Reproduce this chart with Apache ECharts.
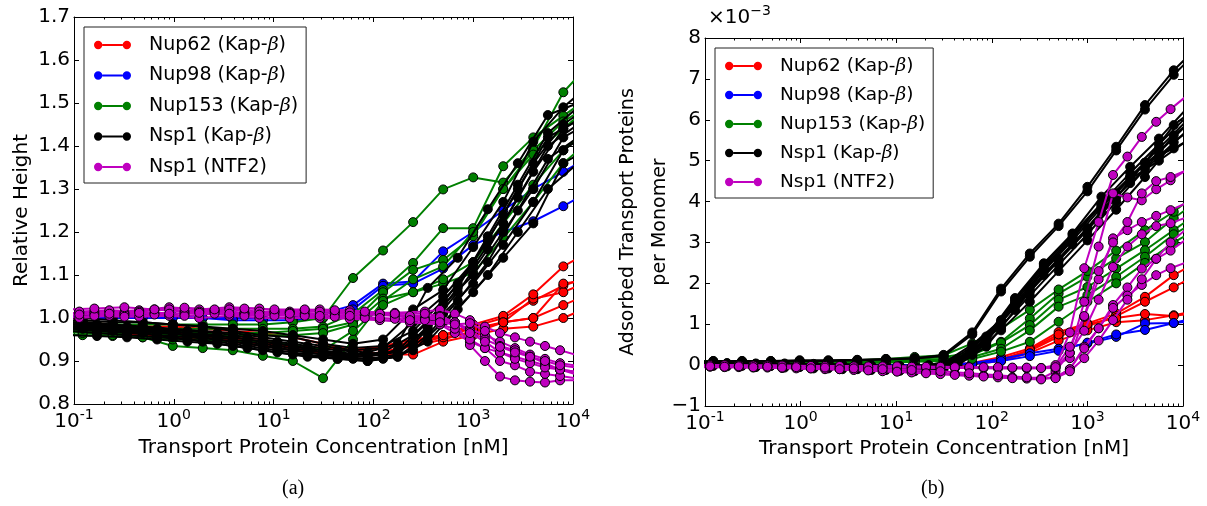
<!DOCTYPE html>
<html>
<head>
<meta charset="utf-8">
<script src="https://cdn.jsdelivr.net/npm/echarts@6/dist/echarts.min.js"></script>
</head>
<body style="margin:0;background:#fff">
<div id="container" style="width:1207px;height:506px;"></div>
<script>
// concentration grids [nM]
var xKap = [0.061, 0.122, 0.244, 0.488, 0.977, 1.95, 3.91, 7.81, 15.6, 31.3, 62.5, 125, 250, 500, 1000, 2000, 4000, 8000, 16000];
var xKap2 = [0.086, 0.17, 0.34, 0.68, 1.37, 2.73, 5.47, 10.9, 21.9, 43.8, 87.5, 175, 350, 700, 1400, 2800, 5600, 11200];
var xNtf = [0.08, 0.16, 0.32, 0.64, 1.28, 2.56, 5.1, 10.2, 20.5, 41, 82, 164, 328, 464, 655, 927, 1311, 1854, 2621, 3707, 5243, 7415, 10486];
var xNtf2 = [0.113, 0.226, 0.45, 0.9, 1.8, 3.6, 7.2, 14.5, 29, 58, 116, 232, 464, 655, 927, 1311, 1854, 2621, 3707, 5243, 7415, 10486];

// (a) relative height
var hNup62 = [
  [0.99, 0.99, 0.985, 0.98, 0.98, 0.975, 0.97, 0.965, 0.955, 0.94, 0.925, 0.93, 0.945, 0.96, 0.98, 1.0, 1.04, 1.075, 1.1],
  [0.985, 0.985, 0.98, 0.975, 0.97, 0.965, 0.96, 0.95, 0.935, 0.92, 0.915, 0.92, 0.935, 0.95, 0.97, 0.99, 1.045, 1.06, 1.09],
  [0.98, 0.98, 0.975, 0.97, 0.965, 0.96, 0.955, 0.945, 0.93, 0.93, 0.925, 0.935, 0.95, 0.96, 0.985, 1.005, 1.055, 1.12, 1.16],
  [0.975, 0.975, 0.97, 0.965, 0.96, 0.955, 0.95, 0.94, 0.93, 0.915, 0.91, 0.915, 0.915, 0.945, 0.96, 0.975, 0.98, 1.0, 1.03],
  [0.97, 0.97, 0.965, 0.96, 0.955, 0.95, 0.945, 0.935, 0.925, 0.92, 0.915, 0.92, 0.94, 0.955, 0.965, 0.99, 1.0, 1.03, 1.06],
  [0.99, 0.985, 0.98, 0.975, 0.97, 0.96, 0.95, 0.94, 0.935, 0.93, 0.925, 0.93, 0.94, 0.96, 0.975, 0.99, 1.0, 1.08, 1.09]
];
var hNup98 = [
  [1.005, 1.005, 1.005, 1.005, 1.005, 1.0, 1.0, 1.0, 1.0, 1.01, 1.03, 1.08, 1.085, 1.155, 1.2, 1.25, 1.3, 1.34, 1.38],
  [1.0, 1.0, 1.0, 1.0, 1.0, 1.0, 0.995, 0.995, 0.995, 1.0, 1.02, 1.075, 1.08, 1.115, 1.17, 1.2, 1.225, 1.26, 1.3]
];
var hNup153 = [
  [0.99, 0.99, 0.985, 0.985, 0.985, 0.985, 0.985, 0.985, 0.99, 1.0, 1.093, 1.157, 1.223, 1.299, 1.327, 1.315, 1.395, 1.525, 1.6],
  [0.98, 0.98, 0.98, 0.975, 0.975, 0.975, 0.975, 0.975, 0.975, 0.98, 1.01, 1.065, 1.128, 1.209, 1.209, 1.353, 1.42, 1.47, 1.52],
  [0.975, 0.975, 0.97, 0.97, 0.97, 0.965, 0.965, 0.965, 0.97, 0.975, 0.99, 1.06, 1.112, 1.135, 1.19, 1.3, 1.39, 1.457, 1.5],
  [0.97, 0.97, 0.965, 0.965, 0.96, 0.96, 0.96, 0.96, 0.96, 0.965, 0.985, 1.045, 1.06, 1.08, 1.105, 1.186, 1.27, 1.36, 1.42],
  [0.965, 0.96, 0.958, 0.955, 0.935, 0.93, 0.925, 0.912, 0.9, 0.86, 0.95, 1.04, 1.09, 1.12, 1.2, 1.3, 1.38, 1.44, 1.5],
  [0.97, 0.965, 0.96, 0.955, 0.95, 0.95, 0.945, 0.945, 0.94, 0.925, 0.97, 1.03, 1.06, 1.09, 1.13, 1.22, 1.31, 1.39, 1.45]
];
var hNsp1Kap = [
  [1.0, 1.0, 0.995, 0.99, 0.985, 0.98, 0.975, 0.97, 0.96, 0.95, 0.94, 0.95, 1.02, 1.065, 1.165, 1.27, 1.41, 1.49, 1.55],
  [0.99, 0.99, 0.985, 0.98, 0.975, 0.97, 0.965, 0.955, 0.945, 0.935, 0.925, 0.93, 0.99, 1.05, 1.13, 1.24, 1.36, 1.45, 1.5],
  [0.985, 0.985, 0.98, 0.975, 0.97, 0.96, 0.955, 0.945, 0.935, 0.92, 0.915, 0.92, 0.96, 1.03, 1.1, 1.2, 1.3, 1.42, 1.46],
  [0.98, 0.98, 0.975, 0.97, 0.965, 0.955, 0.945, 0.935, 0.925, 0.915, 0.91, 0.915, 0.94, 1.01, 1.08, 1.17, 1.27, 1.39, 1.44],
  [0.975, 0.975, 0.97, 0.965, 0.955, 0.945, 0.935, 0.925, 0.915, 0.91, 0.905, 0.905, 0.925, 0.99, 1.06, 1.14, 1.22, 1.36, 1.4],
  [0.995, 0.995, 0.99, 0.99, 0.985, 0.98, 0.97, 0.96, 0.955, 0.94, 0.93, 0.935, 0.97, 1.04, 1.12, 1.22, 1.34, 1.44, 1.48]
];
var hNsp1Kap2 = [
  [0.99, 0.985, 0.98, 0.975, 0.97, 0.965, 0.955, 0.945, 0.935, 0.925, 0.92, 0.94, 1.07, 1.14, 1.253, 1.36, 1.472, 1.5],
  [0.98, 0.975, 0.97, 0.965, 0.96, 0.955, 0.945, 0.935, 0.925, 0.915, 0.91, 0.925, 0.99, 1.08, 1.18, 1.3, 1.42, 1.46],
  [0.97, 0.965, 0.96, 0.955, 0.95, 0.945, 0.935, 0.925, 0.915, 0.905, 0.9, 0.91, 0.96, 1.04, 1.13, 1.25, 1.37, 1.42],
  [0.985, 0.98, 0.975, 0.97, 0.965, 0.96, 0.95, 0.94, 0.93, 0.92, 0.915, 0.92, 0.975, 1.06, 1.16, 1.28, 1.4, 1.45],
  [0.96, 0.958, 0.955, 0.95, 0.945, 0.94, 0.93, 0.92, 0.91, 0.905, 0.9, 0.91, 0.945, 1.02, 1.1, 1.2, 1.3, 1.36],
  [0.975, 0.97, 0.965, 0.96, 0.955, 0.95, 0.94, 0.93, 0.92, 0.91, 0.905, 0.915, 0.98, 1.07, 1.19, 1.31, 1.43, 1.49]
];
var hNsp1Ntf = [
  [1.01, 1.015, 1.012, 1.02, 1.015, 1.018, 1.012, 1.015, 1.018, 1.015, 1.013, 1.012, 1.015, 1.019, 1.01, 0.995, 0.98, 0.965, 0.955, 0.945, 0.935, 0.925, 0.915],
  [1.005, 1.01, 1.008, 1.012, 1.01, 1.015, 1.01, 1.012, 1.01, 1.01, 1.008, 1.005, 1.0, 0.995, 0.988, 0.975, 0.96, 0.945, 0.93, 0.915, 0.905, 0.895, 0.89],
  [1.0, 1.005, 1.003, 1.008, 1.005, 1.01, 1.005, 1.005, 1.005, 1.003, 1.0, 0.998, 0.995, 0.985, 0.965, 0.945, 0.93, 0.92, 0.91, 0.9, 0.89, 0.88, 0.875],
  [1.02, 1.022, 1.025, 1.02, 1.024, 1.02, 1.022, 1.02, 1.02, 1.018, 1.015, 1.01, 1.01, 1.005, 0.99, 0.97, 0.95, 0.935, 0.925, 0.91, 0.895, 0.88, 0.87]
];
var hNsp1Ntf2 = [
  [1.012, 1.015, 1.018, 1.025, 1.02, 1.025, 1.022, 1.015, 1.02, 1.018, 1.01, 1.0, 1.0, 0.99, 0.937, 0.9, 0.864, 0.855, 0.852, 0.85, 0.855, 0.855],
  [1.0, 1.005, 1.003, 1.005, 1.0, 1.005, 1.0, 1.0, 1.0, 0.998, 0.995, 0.99, 0.985, 0.975, 0.95, 0.93, 0.9, 0.89, 0.875, 0.87, 0.865, 0.86],
  [1.015, 1.018, 1.015, 1.02, 1.015, 1.02, 1.015, 1.012, 1.015, 1.013, 1.01, 1.005, 1.003, 0.99, 0.965, 0.945, 0.92, 0.905, 0.895, 0.885, 0.88, 0.875],
  [1.008, 1.01, 1.012, 1.01, 1.012, 1.01, 1.008, 1.01, 1.005, 1.005, 1.0, 0.995, 0.99, 0.985, 0.988, 0.97, 0.933, 0.92, 0.91, 0.9, 0.89, 0.885]
];

// (b) adsorbed proteins per monomer, in units of 1e-3
var aNup62 = [
  [0, 0, 0, 0, 0, 0, 0, 0, 0, 0, 0.05, 0.2, 0.41, 0.81, 1.02, 1.26, 1.67, 2.2, 2.6],
  [-0.02, -0.02, -0.02, -0.02, -0.02, -0.02, -0.02, -0.02, -0.02, -0.02, 0.02, 0.15, 0.35, 0.7, 0.95, 1.2, 1.55, 1.9, 2.3],
  [0, 0, 0, 0, 0, 0, 0, 0, 0, 0, 0.02, 0.1, 0.3, 0.6, 0.85, 1.05, 1.1, 1.22, 1.35],
  [0, 0, 0, 0, 0, 0, 0, 0, 0, 0, 0.03, 0.12, 0.38, 0.75, 1.0, 1.15, 1.25, 1.2, 1.3]
];
var aNup98 = [
  [0, 0, 0, 0, 0, 0, 0, 0, 0, 0, 0.05, 0.15, 0.29, 0.4, 0.53, 0.69, 1.02, 1.03, 1.1],
  [0, 0, 0, 0, 0, 0, 0, 0, 0, 0, 0.03, 0.1, 0.22, 0.35, 0.55, 0.75, 0.86, 1.03, 1.2]
];
var aNup153 = [
  [0.1, 0.1, 0.1, 0.1, 0.1, 0.1, 0.1, 0.12, 0.15, 0.2, 0.3, 0.57, 1.14, 1.75, 2.16, 2.61, 3.01, 3.59, 4.1],
  [0.05, 0.05, 0.05, 0.06, 0.06, 0.07, 0.08, 0.1, 0.12, 0.15, 0.25, 0.55, 0.98, 1.6, 1.91, 2.36, 2.81, 3.3, 3.8],
  [0.05, 0.05, 0.05, 0.05, 0.05, 0.06, 0.07, 0.08, 0.1, 0.12, 0.2, 0.4, 0.85, 1.43, 1.71, 2.16, 2.65, 3.2, 3.6],
  [0.02, 0.02, 0.03, 0.03, 0.03, 0.04, 0.05, 0.06, 0.08, 0.1, 0.15, 0.33, 0.57, 1.06, 1.55, 2.0, 2.5, 3.0, 3.4],
  [0.08, 0.08, 0.08, 0.08, 0.09, 0.1, 0.12, 0.15, 0.2, 0.24, 0.53, 0.9, 1.35, 1.85, 2.3, 2.8, 3.3, 3.75, 4.3]
];
var aNsp1Kap = [
  [0.08, 0.1, 0.1, 0.1, 0.12, 0.12, 0.13, 0.15, 0.17, 0.25, 0.8, 1.87, 2.73, 3.46, 4.36, 5.34, 6.36, 7.21, 7.9],
  [0.06, 0.08, 0.08, 0.09, 0.1, 0.1, 0.12, 0.14, 0.16, 0.22, 0.75, 1.8, 2.65, 3.4, 4.25, 5.25, 6.25, 7.1, 7.8],
  [0, 0.02, 0.03, 0.02, 0, -0.02, -0.05, -0.08, -0.1, -0.05, 0.35, 0.95, 1.7, 2.45, 3.2, 4.0, 4.8, 5.62, 6.2],
  [0.02, 0.03, 0.03, 0.03, 0.02, 0, -0.03, -0.05, -0.06, 0, 0.45, 1.05, 1.8, 2.55, 3.3, 4.1, 4.95, 5.87, 6.4],
  [-0.02, 0, 0, -0.02, -0.05, -0.08, -0.1, -0.12, -0.15, -0.1, 0.25, 0.85, 1.55, 2.3, 3.05, 3.8, 4.6, 5.45, 6.0],
  [0.05, 0.06, 0.05, 0.04, 0.03, 0.02, 0, -0.02, -0.03, 0.05, 0.5, 1.1, 1.85, 2.6, 3.35, 4.2, 4.95, 5.3, 5.7]
];
var aNsp1Kap2 = [
  [0.05, 0.05, 0.04, 0.04, 0.03, 0.02, 0, -0.02, 0, 0.15, 0.7, 1.64, 2.49, 3.22, 4.12, 4.85, 5.54, 6.3],
  [0, 0, -0.02, -0.03, -0.05, -0.07, -0.1, -0.12, -0.1, 0.05, 0.55, 1.5, 2.35, 3.1, 3.95, 4.7, 5.4, 6.1],
  [0.02, 0.02, 0.01, 0, -0.02, -0.04, -0.06, -0.08, -0.06, 0.08, 0.6, 1.55, 2.4, 3.15, 3.9, 4.6, 5.2, 5.9],
  [-0.03, -0.03, -0.05, -0.06, -0.08, -0.1, -0.12, -0.14, -0.12, 0, 0.45, 1.35, 2.2, 2.95, 3.75, 4.45, 5.1, 5.75],
  [0.04, 0.04, 0.03, 0.02, 0.01, 0, -0.02, -0.04, -0.02, 0.12, 0.65, 1.6, 2.45, 3.2, 3.95, 4.55, 5.0, 5.5],
  [0, -0.01, -0.02, -0.03, -0.04, -0.05, -0.07, -0.09, -0.08, 0.1, 0.6, 1.45, 2.3, 3.05, 3.85, 4.6, 5.3, 6.0]
];
var aNsp1Ntf = [
  [-0.02, -0.02, -0.03, -0.03, -0.04, -0.05, -0.05, -0.06, -0.06, -0.07, -0.07, -0.07, -0.07, -0.05, 0.8, 2.37, 3.5, 4.65, 5.1, 5.58, 5.95, 6.26, 6.55],
  [-0.05, -0.05, -0.06, -0.07, -0.08, -0.1, -0.12, -0.15, -0.18, -0.22, -0.26, -0.3, -0.33, -0.15, 0.3, 1.55, 2.9, 4.2, 4.1, 4.03, 4.3, 4.52, 4.75],
  [0, 0, -0.01, -0.01, -0.02, -0.02, -0.03, -0.03, -0.04, -0.05, -0.05, -0.06, -0.07, 0, 0.17, 1.18, 2.1, 3.1, 3.3, 3.5, 3.65, 3.79, 3.95],
  [-0.03, -0.04, -0.05, -0.06, -0.08, -0.1, -0.13, -0.16, -0.2, -0.24, -0.28, -0.32, -0.35, -0.3, -0.1, 0.45, 0.9, 1.47, 1.9, 2.36, 2.6, 2.8, 3.05]
];
var aNsp1Ntf2 = [
  [-0.02, -0.03, -0.03, -0.04, -0.05, -0.05, -0.06, -0.06, -0.07, -0.07, -0.08, -0.08, -0.07, 0.3, 0.84, 1.6, 2.4, 2.9, 3.2, 3.4, 3.47, 3.6],
  [-0.04, -0.05, -0.06, -0.08, -0.1, -0.12, -0.15, -0.18, -0.22, -0.26, -0.3, -0.33, -0.3, -0.1, 0.41, 0.9, 1.4, 1.7, 1.96, 2.2, 2.37, 2.5],
  [0, -0.01, -0.01, -0.02, -0.02, -0.03, -0.03, -0.04, -0.04, -0.05, -0.05, -0.06, -0.05, 0.45, 1.2, 2.3, 3.0, 3.5, 4.2, 4.5, 4.6, 4.75],
  [-0.03, -0.03, -0.04, -0.05, -0.06, -0.08, -0.1, -0.12, -0.15, -0.2, -0.25, -0.3, -0.32, -0.15, 0.17, 0.6, 1.1, 1.6, 2.1, 2.6, 3.0, 3.3]
];

var names = ['Nup62 (Kap-β)', 'Nup98 (Kap-β)', 'Nup153 (Kap-β)', 'Nsp1 (Kap-β)', 'Nsp1 (NTF2)'];
var colors = ['#ff0000', '#0000ff', '#008000', '#000000', '#bf00bf'];

var font = 'DejaVu Sans';
var minorTicks = [];
for (var d = -1; d < 4; d++) {
  for (var m = 2; m < 10; m++) minorTicks.push(d + Math.log10(m));
}

var chart = echarts.init(document.getElementById('container'));

function addLines(list, group, panel, xs, lines) {
  lines.forEach(function (ys) {
    list.push({
      type: 'line',
      name: names[group],
      xAxisIndex: panel * 4,
      yAxisIndex: panel * 2,
      data: ys.map(function (y, i) { return [xs[i], y]; }),
      symbol: 'circle',
      symbolSize: 9,
      lineStyle: { color: colors[group], width: 2 },
      itemStyle: { color: colors[group], borderColor: '#000', borderWidth: 1 },
      emphasis: { disabled: true },
      z: 2 + group
    });
  });
}

var series = [];
addLines(series, 0, 0, xKap, hNup62);
addLines(series, 1, 0, xKap, hNup98);
addLines(series, 2, 0, xKap, hNup153);
addLines(series, 3, 0, xKap, hNsp1Kap);
addLines(series, 3, 0, xKap2, hNsp1Kap2);
addLines(series, 4, 0, xNtf, hNsp1Ntf);
addLines(series, 4, 0, xNtf2, hNsp1Ntf2);
addLines(series, 0, 1, xKap, aNup62);
addLines(series, 1, 1, xKap, aNup98);
addLines(series, 2, 1, xKap, aNup153);
addLines(series, 3, 1, xKap, aNsp1Kap);
addLines(series, 3, 1, xKap2, aNsp1Kap2);
addLines(series, 4, 1, xNtf, aNsp1Ntf);
addLines(series, 4, 1, xNtf2, aNsp1Ntf2);

var expRich = {
  b: { fontSize: 20, fontFamily: font, color: '#000', verticalAlign: 'bottom' },
  s: { fontSize: 14, fontFamily: font, color: '#000', verticalAlign: 'bottom', padding: [0, 0, 10, 0] }
};

function xAxes(grid, nameGap) {
  return [
    {
      type: 'log', gridIndex: grid, position: 'bottom', min: 0.1, max: 10000, logBase: 10,
      name: 'Transport Protein Concentration [nM]', nameLocation: 'middle', nameGap: nameGap,
      nameTextStyle: { fontSize: 20, fontFamily: font, color: '#000' },
      axisLine: { onZero: false, lineStyle: { color: '#000', width: 1 } },
      axisTick: { inside: true, length: 5, lineStyle: { color: '#000' } },
      axisLabel: {
        margin: 4, rich: expRich,
        formatter: function (v) { return '{b|10}{s|' + Math.round(Math.log10(v)) + '}'; }
      },
      splitLine: { show: false }
    },
    {
      type: 'log', gridIndex: grid, position: 'top', min: 0.1, max: 10000, logBase: 10,
      axisLine: { onZero: false, lineStyle: { color: '#000', width: 1 } },
      axisTick: { inside: true, length: 5, lineStyle: { color: '#000' } },
      axisLabel: { show: false }, splitLine: { show: false }
    },
    {
      type: 'value', gridIndex: grid, position: 'bottom', min: -1, max: 4,
      axisLine: { show: false, onZero: false },
      axisTick: { inside: true, length: 2.5, customValues: minorTicks, lineStyle: { color: '#000' } },
      axisLabel: { show: false }, splitLine: { show: false }
    },
    {
      type: 'value', gridIndex: grid, position: 'top', min: -1, max: 4,
      axisLine: { show: false, onZero: false },
      axisTick: { inside: true, length: 2.5, customValues: minorTicks, lineStyle: { color: '#000' } },
      axisLabel: { show: false }, splitLine: { show: false }
    }
  ];
}

function yAxes(grid, min, max, step, fmt, name, nameGap, nameStyle) {
  return [
    {
      type: 'value', gridIndex: grid, position: 'left', min: min, max: max, interval: step,
      name: name, nameLocation: 'middle', nameGap: nameGap, nameTextStyle: nameStyle,
      nameMoveOverlap: false,
      axisLine: { onZero: false, lineStyle: { color: '#000', width: 1 } },
      axisTick: { inside: true, length: 5, lineStyle: { color: '#000' } },
      axisLabel: { fontSize: 20, fontFamily: font, color: '#000', margin: 4, formatter: fmt },
      splitLine: { show: false }
    },
    {
      type: 'value', gridIndex: grid, position: 'right', min: min, max: max, interval: step,
      axisLine: { onZero: false, lineStyle: { color: '#000', width: 1 } },
      axisTick: { inside: true, length: 5, lineStyle: { color: '#000' } },
      axisLabel: { show: false }, splitLine: { show: false }
    }
  ];
}

var legendIcon = 'path://M0,5A4.5,4.5,0,1,0,9,5A4.5,4.5,0,1,0,0,5ZM31,5A4.5,4.5,0,1,0,40,5A4.5,4.5,0,1,0,31,5ZM9,4L31,4L31,6L9,6Z';

function legendBox(left, top, size, gap) {
  return {
    orient: 'vertical', left: left, top: top, padding: [8, 8, 6, 10],
    itemWidth: 37, itemHeight: 9, itemGap: gap, icon: legendIcon,
    backgroundColor: '#fff', borderColor: '#222', borderWidth: 1, borderRadius: 0,
    selectedMode: false, data: names,
    itemStyle: { borderWidth: 0 },
    textStyle: {
      fontSize: size, fontFamily: font, color: '#000', lineHeight: 20, padding: [0, 0, 0, 13],
      rich: { i: { fontSize: size, fontFamily: 'DejaVu Serif', fontStyle: 'italic', color: '#000' } }
    },
    formatter: function (n) { return n.replace('β', '{i|β}'); }
  };
}

var option = {
  animation: false,
  backgroundColor: '#fff',
  grid: [
    { left: 74, top: 17, width: 499, height: 387 },
    { left: 705, top: 38, width: 478, height: 368 }
  ],
  xAxis: xAxes(0, 34).concat(xAxes(1, 32)),
  yAxis: yAxes(0, 0.8, 1.7, 0.1, function (v) { return v.toFixed(1); },
      'Relative Height', 42, { fontSize: 20, fontFamily: font, color: '#000' })
    .concat(yAxes(1, -1, 8, 1, function (v) { return v < 0 ? '\u2212' + (-v) : String(v); },
      'Adsorbed Transport Proteins\nper Monomer', 29, { fontSize: 19, fontFamily: font, color: '#000', lineHeight: 32 })),
  legend: [legendBox(84, 27, 19, 10.5), legendBox(715, 48, 18.5, 9)],
  title: {
    text: '{a|\u00d710}{s|\u22123}', left: 708, top: 4, padding: 0,
    textStyle: {
      rich: {
        a: { fontSize: 20, fontFamily: font, fontWeight: 'normal', color: '#000', verticalAlign: 'bottom' },
        s: { fontSize: 14, fontFamily: font, fontWeight: 'normal', color: '#000', verticalAlign: 'bottom', padding: [0, 0, 10, 0] }
      }
    }
  },
  graphic: [
    { type: 'text', left: 282, top: 479, style: { text: '(a)', font: '20px "Liberation Serif"', fill: '#000' } },
    { type: 'text', left: 921, top: 479, style: { text: '(b)', font: '20px "Liberation Serif"', fill: '#000' } }
  ],
  series: series
};
chart.setOption(option);
</script>
</body>
</html>
